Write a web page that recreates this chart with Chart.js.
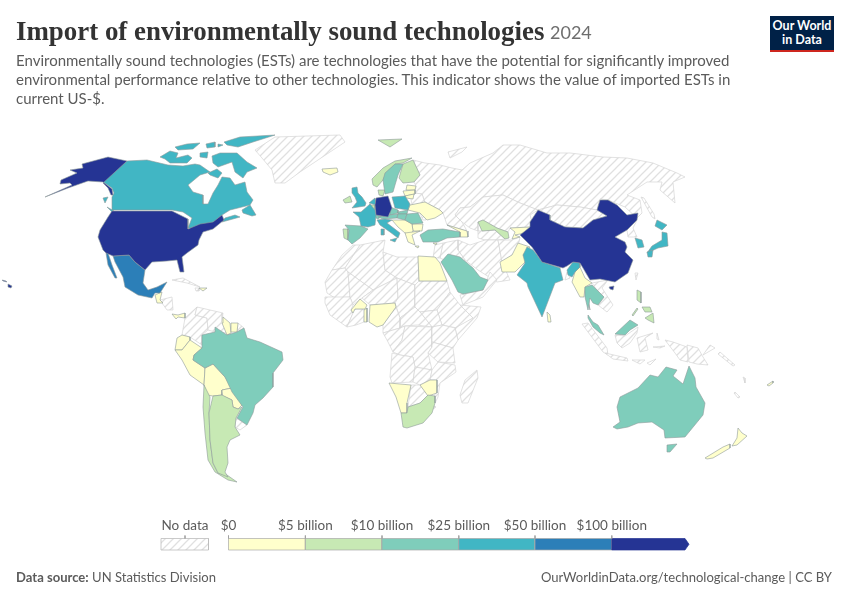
<!DOCTYPE html>
<html><head><meta charset="utf-8">
<script src="https://cdn.jsdelivr.net/npm/chart.js@4/dist/chart.umd.min.js"></script>
<style>
html,body{margin:0;padding:0;background:#fff}
#wrap{position:relative;width:850px;height:600px;overflow:hidden;font-family:Lato,sans-serif}
canvas{position:absolute;left:0;top:0}
.t{position:absolute;white-space:nowrap}
#title{left:16px;top:13px;font:700 26.9px/36px "Liberation Serif",serif;color:#333}
#year{left:550px;top:20px;font:400 18px/24px Lato,sans-serif;color:#6e6e6e}
.sub{left:16px;font:400 15px/20px Lato,sans-serif;color:#5b5b5b}
#logo{position:absolute;left:770px;top:16px;width:64px;height:34px;background:#002147;border-bottom:2px solid #ce261e;color:#fff;font:700 12.5px/14px Lato,sans-serif;text-align:center}
#logo div{padding-top:3px}
.lg{top:516px;font:400 13.5px/18px Lato,sans-serif;color:#5b5b5b}
.ft{top:568px;font:400 13.05px/18px Lato,sans-serif;color:#5b5b5b}
</style></head><body>
<div id="wrap">
<canvas id="c" width="850" height="600"></canvas>
<div class="t" id="title">Import of environmentally sound technologies</div>
<div class="t" id="year">2024</div>
<div class="t sub" style="top:50px">Environmentally sound technologies (ESTs) are technologies that have the potential for significantly improved</div>
<div class="t sub" style="top:69px">environmental performance relative to other technologies. This indicator shows the value of imported ESTs in</div>
<div class="t sub" style="top:88px">current US-$.</div>
<div id="logo"><div>Our World<br>in Data</div></div>
<div class="t ft" style="left:16px"><b>Data source:</b> UN Statistics Division</div>
<div class="t ft" style="right:18px">OurWorldinData.org/technological-change | CC BY</div>
<div id="legendLabels"></div>
</div>
<script>
// ---- Legend categories ----
const noDataLabel = "No data";
const tickLabels = ["$0","$5 billion","$10 billion","$25 billion","$50 billion","$100 billion"];
const binColors = ["#ffffcc","#c7e9b4","#7fcdbb","#41b6c4","#2c7fb8","#253494"];

// ---- Outlines, in map units ----
const greenland=[[255,150],[275,137],[340,135],[345,142],[318,160],[300,172],[285,183],[275,183],[272,170],[262,158]];
const russia=[[413,160],[425,163],[440,165],[452,168],[462,170],[470,163],[493,153],[503,145],[520,145],[547,153],[570,153],[603,157],[627,158],[653,163],[677,173],[685,177],[673,182],[675,203],[660,190],[662,182],[647,182],[627,195],[640,200],[642,213],[637,218],[625,207],[608,200],[600,199],[597,210],[580,207],[557,205],[538,210],[520,203],[503,195],[483,197],[470,207],[460,208],[455,215],[462,222],[467,231],[457,228],[447,225],[443,213],[440,210],[425,202],[422,194],[415,193],[416,186],[414,182],[420,175]];
const sakhalin=[[641,197],[644,198],[654,214],[655,219],[652,217]];
const novayaZemlya=[[448,152],[467,147],[462,152],[450,158]];
const kazakhstan=[[460,208],[470,207],[483,197],[503,195],[520,203],[538,210],[530,215],[532,222],[530,227],[510,228],[508,232],[497,228],[483,220],[478,222],[478,231],[470,228],[462,222],[455,215]];
const turkmenistan=[[478,231],[482,231],[495,230],[505,239],[498,240],[485,240],[478,238]];
const mongolia=[[538,210],[557,205],[580,207],[597,210],[607,216],[593,220],[583,228],[565,227],[550,220]];
const northKorea=[[627,230],[637,220],[633,228],[637,237],[628,237]];
const taiwan=[[635,273],[638,273],[636,280]];
const iran=[[458,240],[470,245],[485,240],[498,240],[502,262],[510,280],[497,282],[478,270],[465,260],[458,250]];
const iraq=[[443,243],[458,240],[458,250],[465,260],[455,265],[440,258]];
const levant=[[435,245],[443,243],[440,258],[433,258]];
const omanYemen=[[460,295],[483,290],[490,272],[497,280],[483,297],[463,305]];
const afghanistan=[[498,240],[512,240],[520,237],[518,247],[512,255],[502,262]];
const nepal=[[542,262],[548,260],[560,266],[560,268]];
const bangladesh=[[567,272],[570,278],[565,280]];
const indochina=[[592,283],[608,280],[602,288],[613,305],[607,312],[598,305],[604,297],[597,290]];
const sumatra=[[582,324],[588,323],[607,348],[608,355],[603,352]];
const java=[[605,353],[627,358],[628,361],[613,359]];
const kalimantan=[[615,335],[625,336],[638,327],[637,333],[630,343],[622,348],[617,343]];
const sulawesi=[[637,338],[653,333],[645,338],[648,350],[640,352]];
const sundaA=[[632,360],[645,360],[640,364]];
const sundaB=[[647,363],[656,359],[650,365]];
const moluccas=[[657,333],[659,340],[657,339]];
const seram=[[653,347],[665,346],[660,348]];
const papua=[[665,340],[673,342],[687,347],[688,362],[680,360],[675,353]];
const png=[[687,345],[698,348],[703,357],[708,365],[697,364],[689,362]];
const newBritain=[[703,355],[715,348],[710,345]];
const solomon=[[720,352],[735,365],[733,366],[718,354]];
const vanuatu=[[743,377],[745,378],[745,383]];
const newCaledonia=[[735,392],[740,397],[738,398],[734,393]];
const belarus=[[415,193],[422,194],[425,203],[412,205],[411,199]];
const moldova=[[420,213],[423,214],[426,220],[423,220]];
const cuba=[[172,280],[183,278],[200,287],[187,283]];
const haiti=[[195,288],[199,288],[199,291],[196,291]];
const centralAm=[[160,300],[172,297],[173,310],[167,310],[162,303]];
const colombia=[[185,318],[197,307],[195,315],[207,318],[208,330],[202,335],[202,345],[190,337],[182,335]];
const venezuela=[[197,307],[223,313],[222,322],[228,333],[215,332],[208,330],[207,318],[195,315]];
const frGuiana=[[238,323],[244,328],[237,332]];
const uruguay=[[236,418],[247,425],[240,430],[235,427]];
const morocco=[[342,255],[353,245],[360,245],[345,268],[332,270]];
const mauritania=[[325,282],[332,270],[345,268],[348,272],[350,297],[335,298],[327,293]];
const algeria=[[345,268],[360,245],[385,240],[383,252],[385,270],[397,278],[373,290],[348,272]];
const libya=[[383,252],[397,257],[418,257],[419,283],[415,285],[397,278],[385,270]];
const mali=[[348,272],[373,290],[362,298],[353,305],[350,297]];
const niger=[[373,290],[397,278],[398,298],[395,303],[370,305],[362,298]];
const chad=[[397,278],[415,285],[415,307],[400,318],[395,303],[398,298]];
const sudan=[[419,281],[447,281],[450,292],[437,310],[420,312],[415,307],[415,285]];
const ethiopia=[[450,292],[460,305],[473,318],[457,328],[442,325],[437,310]];
const somalia=[[460,305],[481,307],[477,318],[458,340],[455,328],[473,318]];
const southSudan=[[420,312],[437,310],[442,325],[432,327]];
const car=[[400,318],[415,307],[420,312],[432,327],[417,325],[405,326],[400,328]];
const cameroon=[[388,318],[396,307],[400,318],[400,328],[383,333],[383,325]];
const gabon=[[383,333],[400,328],[405,326],[402,340],[393,352],[387,340]];
const drc=[[405,326],[432,327],[432,347],[428,353],[432,370],[415,367],[413,357],[400,355],[393,352],[402,340]];
const kenya=[[432,327],[442,325],[455,328],[458,340],[453,348],[432,342]];
const tanzania=[[432,342],[453,348],[455,363],[438,362],[428,353],[432,347]];
const angola=[[392,353],[400,355],[413,357],[415,367],[413,382],[392,383],[390,377]];
const zambia=[[415,367],[432,370],[430,380],[420,385],[413,382]];
const mozambique=[[438,362],[455,365],[456,372],[440,383],[438,397],[435,403],[435,380],[430,380],[432,370]];
const botswana=[[411,385],[420,385],[428,395],[420,403],[408,407]];
const lesotho=[[423,415],[428,413],[427,417],[424,418]];
const eswatini=[[432,407],[435,406],[435,408],[433,409]];
const madagascar=[[477,370],[478,378],[468,403],[462,403],[460,395],[465,380]];
const guinea=[[325,297],[350,297],[353,305],[351,310],[353,313],[347,327],[330,315],[325,303]];
const ghana=[[351,310],[355,309],[365,309],[364,322],[356,325],[347,327],[353,313]];

const iceland=[[322,169],[337,168],[338,172],[330,175],[323,172]];
const estonia=[[407,185],[416,186],[415,190],[406,190]];
const latvia=[[403,191],[415,190],[415,194],[405,196]];
const lithuania=[[405,196],[414,194],[413,199],[406,198]];
const ukraine=[[410,205],[425,202],[440,210],[443,213],[435,218],[427,220],[420,213],[408,210]];
const bulgaria=[[412,224],[423,224],[422,231],[413,231]];
const balkans=[[392,220],[405,220],[412,224],[413,231],[410,235],[405,233],[398,227]];
const greece=[[405,233],[420,231],[412,235],[415,245],[408,242]];
const crete=[[415,246],[419,246],[418,248]];
const cyprus=[[433,243],[437,243],[436,245]];
const caucasus=[[447,225],[457,228],[467,231],[468,237],[460,237],[460,232]];
const egypt=[[418,256],[435,257],[440,263],[447,281],[419,281]];
const pakistan=[[518,243],[530,247],[523,255],[527,260],[515,272],[502,272],[500,262],[512,255]];
const kyrgyz=[[510,228],[530,227],[525,233],[515,235],[520,237],[512,239],[515,232]];
const sriLanka=[[547,312],[550,315],[551,322],[548,322]];
const myanmar=[[575,272],[580,267],[585,278],[592,283],[585,287],[584,297],[580,297],[572,282]];
const myanmarS=[[587,297],[590,310],[588,298]];
const centralYellow=[[155,295],[162,292],[160,300],[163,303],[157,303]];
const panama=[[172,314],[178,315],[185,313],[185,318],[178,317],[176,319]];
const domRep=[[199,288],[207,288],[203,291]];
const guyana=[[223,317],[230,323],[231,333],[227,335],[222,323]];
const suriname=[[231,323],[238,323],[237,332],[231,332]];
const ecuador=[[177,338],[182,335],[190,337],[190,340],[182,350],[175,350]];
const peru=[[175,350],[182,350],[190,340],[202,348],[194,355],[193,360],[205,368],[204,385],[190,375],[182,360]];
const bolivia=[[205,368],[213,364],[225,377],[232,388],[222,390],[222,395],[213,396],[207,395],[204,385]];
const paraguay=[[222,390],[232,388],[242,405],[238,409],[233,407],[232,400],[223,396]];
const burkina=[[351,310],[360,299],[367,305],[365,309],[355,309],[353,313]];
const benin=[[364,310],[367,308],[367,322],[364,322]];
const nigeria=[[370,305],[395,303],[396,307],[388,318],[383,325],[377,327],[369,322]];
const namibia=[[389,383],[411,385],[407,403],[407,413],[401,413],[396,397]];
const zimbabwe=[[420,385],[430,380],[437,380],[437,393],[428,396]];
const nzSouth=[[705,458],[723,447],[730,444],[730,448],[713,458],[707,459]];
const nzNorth=[[738,428],[742,433],[747,436],[737,445],[732,446],[737,438]];
const fiji=[[767,385],[773,381],[773,383],[769,386]];

const svalbard=[[378,140],[402,139],[390,147]];
const norway=[[372,179],[383,168],[395,161],[412,158],[403,163],[395,164],[387,172],[383,180],[377,187],[373,185]];
const finland=[[403,164],[413,160],[420,175],[414,182],[403,183],[399,178]];
const denmark=[[378,190],[385,190],[383,196],[379,195]];
const ireland=[[343,200],[350,196],[352,202],[345,203]];
const portugal=[[343,229],[348,229],[348,240],[344,238]];
const belgium=[[369,205],[375,205],[375,210]];
const uzbekistan=[[478,222],[483,220],[497,228],[508,232],[509,238],[505,239],[495,230],[482,231]];
const luzon=[[637,290],[641,292],[641,303],[637,300]];
const mindanao=[[645,318],[653,313],[654,323],[648,320]];
const visayas=[[642,307],[650,307],[652,312],[645,312]];
const palawan=[[632,315],[637,308],[638,309],[633,316]];
const chile=[[204,385],[210,397],[209,413],[210,440],[213,463],[218,473],[227,475],[237,482],[228,480],[215,472],[208,460],[205,433],[203,407]];
const argentina=[[213,396],[222,395],[232,400],[233,407],[238,409],[242,407],[236,418],[235,427],[240,435],[230,440],[227,447],[228,463],[225,472],[228,477],[218,473],[213,463],[210,440],[209,413]];
const southAfrica=[[401,413],[407,413],[408,407],[420,403],[428,395],[435,396],[435,403],[432,413],[423,423],[407,428],[403,427]];

const sweden=[[385,173],[395,164],[403,164],[398,175],[395,185],[393,192],[385,194],[383,180]];
const spain=[[345,225],[361,226],[368,229],[360,238],[352,244],[348,240],[349,230]];
const switzerland=[[375,215],[382,216],[378,219],[376,218]];
const czechia=[[390,207],[398,210],[398,213],[390,215]];
const austria=[[378,217],[388,215],[398,214],[397,218],[383,219]];
const slovakia=[[398,212],[408,210],[407,214],[398,214]];
const hungary=[[398,214],[407,214],[405,220],[397,218]];
const romania=[[407,214],[418,213],[423,223],[412,224],[405,220]];
const turkey=[[420,235],[428,230],[443,229],[460,232],[460,237],[447,238],[438,242],[423,242]];
const saudi=[[441,262],[448,254],[460,257],[473,268],[480,277],[488,280],[483,290],[463,294],[458,292],[452,280]];
const brazil=[[202,335],[215,332],[215,327],[227,335],[237,332],[244,328],[247,338],[260,342],[282,352],[283,360],[273,373],[273,387],[263,398],[255,405],[253,413],[247,425],[237,418],[243,407],[232,392],[225,377],[213,364],[205,368],[193,360],[194,355],[202,348]];
const thailand=[[585,287],[592,285],[597,290],[604,297],[598,305],[593,303],[590,298],[588,310],[585,297]];
const malayPen=[[588,315],[593,322],[598,325],[604,335],[600,333],[593,327],[588,318]];
const sarawak=[[615,334],[630,320],[638,325],[630,330],[625,335]];
const australia=[[613,427],[620,422],[617,407],[620,397],[638,388],[650,375],[658,377],[666,367],[677,370],[673,376],[683,384],[689,366],[695,378],[696,387],[705,403],[703,415],[685,437],[665,438],[664,430],[658,426],[652,422],[638,423],[628,427],[617,429]];
const tasmania=[[667,445],[677,444],[670,452],[667,452]];

const canada=[[127,161],[147,160],[168,165],[183,166],[195,164],[200,165],[210,172],[200,175],[188,185],[193,192],[203,195],[203,204],[208,204],[213,193],[218,185],[222,177],[230,178],[235,185],[245,182],[247,192],[253,200],[250,205],[230,210],[222,215],[213,223],[193,228],[188,228],[192,218],[183,212],[172,210],[112,210],[112,197],[114,193],[112,188],[103,182]];
const ellesmere=[[224,142],[240,137],[275,135],[253,142],[238,147],[227,145]];
const arcticA=[[175,147],[187,144],[200,143],[193,149],[178,150]];
const arcticB=[[160,157],[170,151],[178,153],[176,158],[188,155],[192,158],[187,163],[170,163],[165,159]];
const arcticC=[[200,153],[208,152],[207,158],[200,157]];
const arcticD=[[206,144],[215,142],[215,147],[207,148]];
const arcticE=[[218,144],[223,145],[218,147]];
const baffin=[[212,156],[220,153],[237,153],[247,162],[257,168],[247,172],[243,178],[235,172],[232,162],[218,167],[213,163]];
const southampton=[[208,173],[217,169],[222,173],[218,178],[210,175]];
const newfoundland=[[242,210],[250,205],[256,215],[252,216],[243,213]];
const novaScotia=[[222,222],[240,217],[235,215],[225,218]];
const vancouver=[[103,198],[108,197],[105,203]];
const vancouverS=[[107,207],[114,211],[112,212]];
const indiaMain=[[527,247],[533,250],[537,255],[542,262],[560,268],[563,280],[555,283],[542,317],[528,287],[527,283],[517,275],[525,263],[523,255]];
const indiaEast=[[567,270],[573,262],[580,263],[580,267],[575,272],[572,277],[568,275]];
const france=[[353,212],[361,212],[370,204],[375,210],[376,215],[375,225],[368,227],[361,226],[359,217]];
const uk=[[352,188],[357,187],[358,193],[362,197],[366,203],[365,206],[352,208],[357,202],[355,197],[352,193]];
const netherlands=[[369,203],[375,198],[376,205]];
const poland=[[392,197],[405,196],[410,204],[408,210],[395,208]];
const italy=[[377,220],[385,219],[392,220],[387,223],[400,233],[398,238],[390,232],[380,225]];
const sicily=[[390,240],[397,238],[395,242]];
const sardinia=[[381,229],[384,229],[384,235],[381,235]];
const hokkaido=[[657,220],[667,225],[662,230],[655,226]];
const honshu=[[667,233],[668,246],[658,248],[647,253],[652,246],[662,240],[662,232]];
const kyushu=[[647,252],[653,250],[652,257],[648,257]];
const southKorea=[[635,238],[642,240],[644,247],[638,248]];

const mexicoMain=[[113,256],[129,255],[135,262],[145,270],[143,283],[148,290],[157,287],[167,282],[160,293],[155,293],[152,298],[138,295],[125,287],[123,277],[115,262]];
const baja=[[106,253],[108,253],[112,265],[117,278],[115,278],[108,265]];

const usaMain=[[112,211],[172,211],[188,219],[188,229],[200,224],[213,222],[222,215],[224,220],[213,229],[203,232],[199,240],[198,245],[187,253],[182,257],[184,272],[180,272],[177,260],[167,261],[152,262],[145,270],[135,262],[129,255],[113,256],[106,253],[103,250],[98,237],[100,230],[108,217]];
const alaska=[[127,161],[108,157],[82,164],[83,168],[70,170],[77,173],[61,180],[60,184],[70,183],[72,185],[45,197],[68,188],[88,181],[103,182],[112,189],[113,195],[111,195],[108,188],[103,183]];
const hawaii=[[8,284],[12,286],[11,288],[8,287]];
const hawaiiN=[[2,280],[6,281],[7,282],[3,281]];
const china=[[538,210],[550,215],[550,220],[565,227],[583,228],[593,220],[607,216],[597,210],[600,200],[608,200],[617,205],[627,215],[638,213],[637,220],[627,230],[615,237],[625,242],[627,247],[625,252],[633,260],[628,273],[615,282],[600,279],[590,280],[583,268],[580,263],[573,262],[567,266],[563,268],[542,262],[532,247],[520,235],[530,227],[530,222]];
const hainan=[[609,287],[614,286],[613,290],[610,289]];
const germany=[[376,198],[388,196],[392,208],[388,217],[376,215],[375,205]];

// ---- Which outline falls in which value band ----
const noDataShapes=[greenland,russia,sakhalin,novayaZemlya,kazakhstan,turkmenistan,mongolia,northKorea,taiwan,iran,iraq,levant,omanYemen,afghanistan,nepal,bangladesh,indochina,sumatra,java,kalimantan,sulawesi,sundaA,sundaB,moluccas,seram,papua,png,newBritain,solomon,vanuatu,newCaledonia,belarus,moldova,cuba,haiti,centralAm,colombia,venezuela,frGuiana,uruguay,morocco,mauritania,algeria,libya,mali,niger,chad,sudan,ethiopia,somalia,southSudan,car,cameroon,gabon,drc,kenya,tanzania,angola,zambia,mozambique,botswana,lesotho,eswatini,madagascar,guinea,ghana];
const band0=[iceland,estonia,latvia,lithuania,ukraine,bulgaria,balkans,greece,crete,cyprus,caucasus,egypt,pakistan,kyrgyz,sriLanka,myanmar,myanmarS,centralYellow,panama,domRep,guyana,suriname,ecuador,peru,bolivia,paraguay,burkina,benin,nigeria,namibia,zimbabwe,nzSouth,nzNorth,fiji];
const band1=[svalbard,norway,finland,denmark,ireland,portugal,belgium,uzbekistan,luzon,mindanao,visayas,palawan,chile,argentina,southAfrica];
const band2=[sweden,spain,switzerland,czechia,austria,slovakia,hungary,romania,turkey,saudi,brazil,thailand,malayPen,sarawak,australia,tasmania];
const band3=[canada,ellesmere,arcticA,arcticB,arcticC,arcticD,arcticE,baffin,southampton,newfoundland,novaScotia,vancouver,vancouverS,indiaMain,indiaEast,france,uk,netherlands,poland,italy,sicily,sardinia,hokkaido,honshu,kyushu,southKorea];
const band4=[mexicoMain,baja];
const band5=[usaMain,alaska,hawaii,hawaiiN,china,hainan,germany];
const bands=[band0,band1,band2,band3,band4,band5];

// legend band edges in map units
const legendEdges=[228.5,305.4,382,458.8,535,611.8,685];

function hatchPattern(){
  const p=document.createElement('canvas');p.width=p.height=8;
  const g=p.getContext('2d');g.fillStyle='#fff';g.fillRect(0,0,8,8);
  g.strokeStyle='#e0e0e0';g.lineWidth=1.3;
  g.beginPath();
  g.moveTo(-2,2);g.lineTo(2,-2);g.moveTo(-2,10);g.lineTo(10,-2);g.moveTo(6,10);g.lineTo(10,6);
  g.stroke();
  return g.createPattern(p,'repeat');
}
const hatch=hatchPattern();
const closed=s=>s.concat([s[0]]).map(([x,y])=>({x,y}));
function shape(s,fillStyle,edge,w){
  return {data:closed(s),showLine:true,tension:0,borderColor:edge,borderWidth:w,pointRadius:0,pointHoverRadius:0,shapeFill:fillStyle};
}
const layers=[];
noDataShapes.forEach(s=>layers.push(shape(s,hatch,'#d6d6d6',.7)));
bands.forEach((list,i)=>list.forEach(s=>layers.push(shape(s,binColors[i],'#8f9a9a',.6))));
// legend swatches
const lgTop=538.5,lgBot=550;
layers.push(shape([[161,lgTop],[208.5,lgTop],[208.5,lgBot],[161,lgBot]],hatch,'#bdbdbd',.8));
binColors.forEach((col,i)=>{
  const a=legendEdges[i],b=legendEdges[i+1];
  const pts=i<binColors.length-1?[[a,lgTop],[b,lgTop],[b,lgBot],[a,lgBot]]
    :[[a,lgTop],[b,lgTop],[689,(lgTop+lgBot)/2],[b,lgBot],[a,lgBot]];
  layers.push(shape(pts,col,i<binColors.length-1?'#a9a9a9':col,.7));
});
legendEdges.slice(0,-1).forEach(x=>layers.push({data:[{x,y:535.5},{x,y:lgTop}],showLine:true,borderColor:'#a0a0a0',borderWidth:.8,pointRadius:0}));
layers.push({data:[{x:185,y:535.5},{x:185,y:lgTop}],showLine:true,borderColor:'#a0a0a0',borderWidth:.8,pointRadius:0});
layers.reverse(); // Chart.js paints dataset 0 last

const polygonFill={
  id:'polygonFill',
  beforeDatasetDraw(chart,args){
    const ds=chart.data.datasets[args.index];
    if(!ds.shapeFill)return;
    const pts=args.meta.data,ctx=chart.ctx;
    ctx.save();ctx.beginPath();
    pts.forEach((p,i)=>i?ctx.lineTo(p.x,p.y):ctx.moveTo(p.x,p.y));
    ctx.closePath();ctx.fillStyle=ds.shapeFill;ctx.fill();ctx.restore();
  }
};
new Chart(document.getElementById('c'),{
  type:'scatter',
  data:{datasets:layers},
  plugins:[polygonFill],
  options:{
    responsive:false,animation:false,events:[],
    layout:{padding:0},
    plugins:{legend:{display:false},tooltip:{enabled:false},title:{display:false}},
    scales:{
      x:{type:'linear',min:0,max:850,display:false},
      y:{type:'linear',min:0,max:600,reverse:true,display:false}
    }
  }
});
// legend labels
const holder=document.getElementById('legendLabels');
function addLabel(text,cx){
  const d=document.createElement('div');d.className='t lg';d.textContent=text;
  d.style.left=cx+'px';d.style.transform='translateX(-50%)';holder.appendChild(d);
}
addLabel(noDataLabel,185);
tickLabels.forEach((t,i)=>addLabel(t,legendEdges[i]));
</script>
</body></html>
